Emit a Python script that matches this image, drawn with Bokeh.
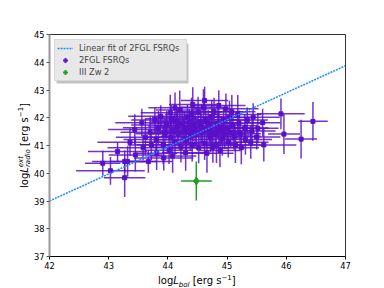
import numpy as np
from bokeh.plotting import figure
from bokeh.models import (ColumnDataSource, Legend, LegendItem, Div,
                          BoxAnnotation, FixedTicker, Range1d)
from bokeh.layouts import row, column
from bokeh.embed import file_html
from bokeh.resources import INLINE

# ---------------- data ----------------
fsrq_x = [42.90, 43.03, 43.27, 43.27, 43.32, 43.67, 43.15, 43.45, 43.58, 43.36,
          43.62, 43.44, 43.72, 43.81, 43.93, 43.80, 43.84, 43.78, 43.92, 43.95,
          43.88, 44.02, 44.05, 43.98, 44.04, 44.12, 44.10, 44.15, 44.08, 44.22,
          44.18, 44.24, 44.20, 44.31, 44.28, 44.33, 44.30, 44.41, 44.38, 44.43,
          44.40, 44.42, 44.52, 44.48, 44.55, 44.51, 44.62, 44.58, 44.64, 44.60,
          44.66, 44.72, 44.70, 44.74, 44.76, 44.82, 44.80, 44.84, 44.78, 44.92,
          44.90, 44.94, 44.88, 45.02, 45.00, 45.04, 44.98, 45.12, 45.10, 45.14,
          45.22, 45.20, 45.18, 45.24, 45.31, 45.30, 45.34, 45.42, 45.40, 45.44,
          45.52, 45.50, 45.62, 45.60, 45.91, 45.96, 46.25, 46.45, 44.35, 44.56,
          44.68, 44.46, 44.86, 44.26, 44.16, 44.96, 45.06, 44.74, 44.06, 44.36,
          43.70, 43.56, 44.62, 44.86, 45.08, 44.12]
fsrq_y = [40.36, 40.09, 39.84, 40.42, 40.42, 40.42, 40.78, 40.66, 40.92, 41.12,
          41.30, 41.58, 41.02, 40.72, 40.55, 41.22, 41.64, 41.92, 41.03, 41.42,
          42.05, 40.83, 41.31, 41.74, 42.18, 41.12, 41.53, 41.88, 40.62, 40.94,
          41.42, 41.80, 42.28, 41.21, 41.63, 42.02, 40.74, 41.02, 41.33, 41.71,
          42.12, 42.48, 40.91, 41.44, 41.82, 42.21, 41.08, 41.52, 41.93, 42.38,
          40.72, 41.31, 41.62, 42.04, 40.93, 41.02, 41.41, 41.79, 42.22, 41.23,
          41.54, 41.92, 40.82, 41.12, 41.62, 42.01, 42.32, 41.33, 41.71, 41.02,
          41.42, 41.81, 42.12, 40.92, 41.22, 41.63, 41.92, 41.52, 41.12, 42.02,
          41.62, 41.31, 41.02, 41.82, 42.14, 41.41, 41.23, 41.87, 41.48, 41.66,
          41.78, 41.58, 41.64, 41.52, 41.70, 41.38, 41.48, 41.48, 41.96, 41.86,
          41.48, 41.82, 42.62, 42.44, 42.22, 42.36]
fsrq_xerr = [0.30, 0.58, 0.35, 0.55, 0.30, 0.40, 0.50, 0.45, 0.60, 0.55,
             0.50, 0.45, 0.40, 0.35, 0.50, 0.55, 0.60, 0.40, 0.45, 0.50,
             0.55, 0.40, 0.45, 0.60, 0.50, 0.55, 0.35, 0.45, 0.40, 0.50,
             0.45, 0.55, 0.40, 0.50, 0.45, 0.60, 0.40, 0.45, 0.50, 0.55,
             0.45, 0.40, 0.50, 0.45, 0.60, 0.40, 0.50, 0.45, 0.55, 0.40,
             0.45, 0.50, 0.35, 0.45, 0.55, 0.40, 0.50, 0.45, 0.55, 0.40,
             0.50, 0.45, 0.35, 0.50, 0.40, 0.45, 0.55, 0.45, 0.40, 0.50,
             0.35, 0.45, 0.40, 0.30, 0.45, 0.40, 0.35, 0.40, 0.30, 0.45,
             0.35, 0.40, 0.55, 0.30, 0.40, 0.27, 0.27, 0.25, 0.50, 0.45,
             0.50, 0.55, 0.40, 0.45, 0.50, 0.45, 0.40, 0.50, 0.45, 0.55,
             0.50, 0.45, 0.40, 0.45, 0.40, 0.45]
fsrq_yerr = [0.45, 0.50, 0.70, 0.40, 0.55, 0.40, 0.35, 0.60, 0.45, 0.50,
             0.65, 0.55, 0.55, 0.60, 0.45, 0.50, 0.60, 0.45, 0.70, 0.55,
             0.40, 0.50, 0.60, 0.50, 0.65, 0.45, 0.55, 0.50, 0.60, 0.55,
             0.45, 0.60, 0.70, 0.50, 0.55, 0.45, 0.65, 0.60, 0.50, 0.55,
             0.60, 0.62, 0.55, 0.50, 0.45, 0.55, 0.60, 0.45, 0.50, 0.65,
             0.70, 0.55, 0.50, 0.60, 0.55, 0.65, 0.45, 0.55, 0.50, 0.60,
             0.50, 0.45, 0.60, 0.55, 0.50, 0.60, 0.55, 0.50, 0.55, 0.65,
             0.50, 0.45, 0.70, 0.60, 0.55, 0.50, 0.45, 0.55, 0.60, 0.50,
             0.55, 0.45, 0.60, 0.50, 0.55, 0.72, 0.70, 0.70, 0.45, 0.55,
             0.50, 0.60, 0.55, 0.50, 0.55, 0.50, 0.55, 0.60, 0.50, 0.45,
             0.55, 0.50, 0.50, 0.55, 0.60, 0.55]

zw_x = [44.48]
zw_y = [39.72]
zw_xerr = [0.26]
zw_yerr = [0.70]

fit_x = [42.0, 47.0]
fit_slope = 0.975
fit_y0 = 39.0  # value at x = 42

x_ticks = [42, 43, 44, 45, 46, 47]
y_ticks = [37, 38, 39, 40, 41, 42, 43, 44, 45]

PURPLE = "#5a10c8"
GREEN = "#1f9e1f"
BLUE = "#1e8fff"
FONT = "DejaVu Sans"

# ---------------- figure ----------------
p = figure(width=350, height=272, x_range=Range1d(42, 47), y_range=Range1d(37, 45),
           output_backend="svg", toolbar_location=None,
           min_border_left=18, min_border_right=35, min_border_top=34, min_border_bottom=16,
           margin=(0, 0, 0, 0))
p.background_fill_color = "white"
p.border_fill_color = "white"
p.outline_line_color = "#333333"
p.outline_line_width = 1
p.xgrid.visible = False
p.ygrid.visible = False

for ax, ticks in ((p.xaxis[0], x_ticks), (p.yaxis[0], y_ticks)):
    ax.ticker = FixedTicker(ticks=ticks)
    ax.minor_tick_line_color = None
    ax.major_tick_in = 0
    ax.major_tick_out = 3
    ax.major_label_text_font = FONT
    ax.major_label_text_font_size = "8.3px"
    ax.major_label_text_color = "black"
    ax.major_label_standoff = 2
p.xaxis.axis_line_color = "black"
p.xaxis.major_tick_line_color = "black"
p.yaxis.axis_line_color = "#999999"
p.yaxis.axis_line_width = 2
p.yaxis.major_tick_line_color = "#555555"

# ---------------- error bars ----------------
fx = np.array(fsrq_x); fy = np.array(fsrq_y)
fxe = np.array(fsrq_xerr); fye = np.array(fsrq_yerr)
src = ColumnDataSource(dict(x=fx, y=fy, xl=fx - fxe, xr=fx + fxe, yl=fy - fye, yh=fy + fye))
p.segment(x0="xl", y0="y", x1="xr", y1="y", source=src, line_color=PURPLE, line_width=1.5, line_alpha=0.85)
p.segment(x0="x", y0="yl", x1="x", y1="yh", source=src, line_color=PURPLE, line_width=1.5, line_alpha=0.85)
p.scatter(x="x", y="y", source=src, marker="square", size=4, color=PURPLE)

# fit line (drawn over the cloud)
fit_line_y = [fit_y0 + fit_slope * (xx - fit_x[0]) for xx in fit_x]
fit_r = p.line(fit_x, fit_line_y, line_color=BLUE, line_width=1.5, line_dash="2 1")

zx = np.array(zw_x); zy = np.array(zw_y)
zxe = np.array(zw_xerr); zye = np.array(zw_yerr)
zsrc = ColumnDataSource(dict(x=zx, y=zy, xl=zx - zxe, xr=zx + zxe, yl=zy - zye, yh=zy + zye))
p.segment(x0="xl", y0="y", x1="xr", y1="y", source=zsrc, line_color=GREEN, line_width=1.5)
p.segment(x0="x", y0="yl", x1="x", y1="yh", source=zsrc, line_color=GREEN, line_width=1.5)
p.scatter(x="x", y="y", source=zsrc, marker="diamond", size=8, color=GREEN)

# ---------------- legend (proxy glyphs placed outside the visible range) ----------------
off = [-100.0]
c1 = p.scatter(x=off, y=off, marker="cross", line_color=PURPLE, line_width=2)
c2 = p.scatter(x=off, y=off, marker="cross", line_color=GREEN, line_width=2)

shadow = BoxAnnotation(left=7, right=139, top=213, bottom=173,
                       left_units="screen", right_units="screen",
                       top_units="screen", bottom_units="screen",
                       fill_color="#999999", fill_alpha=0.6, line_color=None)
p.add_layout(shadow)

legend = Legend(items=[LegendItem(label="Linear fit of 2FGL FSRQs", renderers=[fit_r]),
                       LegendItem(label="2FGL FSRQs", renderers=[c1]),
                       LegendItem(label="III Zw 2", renderers=[c2])],
                location=(5, 175), padding=2, spacing=0, margin=0,
                label_height=12, glyph_height=12, glyph_width=16,
                label_standoff=6, label_width=105,
                label_text_font=FONT, label_text_font_size="8.3px",
                background_fill_color="#e8e8e8", background_fill_alpha=1.0,
                border_line_color="#c8c8c8", border_line_width=1)
p.add_layout(legend)

# ---------------- axis labels as HTML text ----------------
SUB = "font-size:7px;line-height:0;"
x_label_html = (
    f"<div style=\"font-family:'{FONT}';font-size:10px;line-height:10px;"
    "margin-left:128px;margin-top:-3px;white-space:nowrap;color:black;\">"
    f"log<i>L</i><sub style=\"{SUB}\"><i>bol</i></sub> [erg s<sup style=\"{SUB}\">\u22121</sup>]</div>"
)
y_label_html = (
    f"<div style=\"font-family:'{FONT}';font-size:10px;line-height:10px;width:10px;"
    "margin-left:20px;margin-top:103px;white-space:nowrap;color:black;"
    "writing-mode:vertical-rl;transform:rotate(180deg);\">"
    f"log<i>L</i><sup style=\"{SUB}\"><i>ext</i></sup>"
    f"<sub style=\"{SUB}margin-inline-start:-11px;\"><i>radio</i></sub>"
    f" [erg s<sup style=\"{SUB}\">\u22121</sup>]</div>"
)
xdiv = Div(text=x_label_html, width=350, height=16, margin=(0, 0, 0, 0))
ydiv = Div(text=y_label_html, width=30, height=288, margin=(0, 0, 0, 0))

layout = row(ydiv, column(p, xdiv, spacing=0, margin=(0, 0, 0, 0)), spacing=0, margin=(0, 0, 0, 0))

open("out.html", "w").write(file_html(layout, INLINE))
